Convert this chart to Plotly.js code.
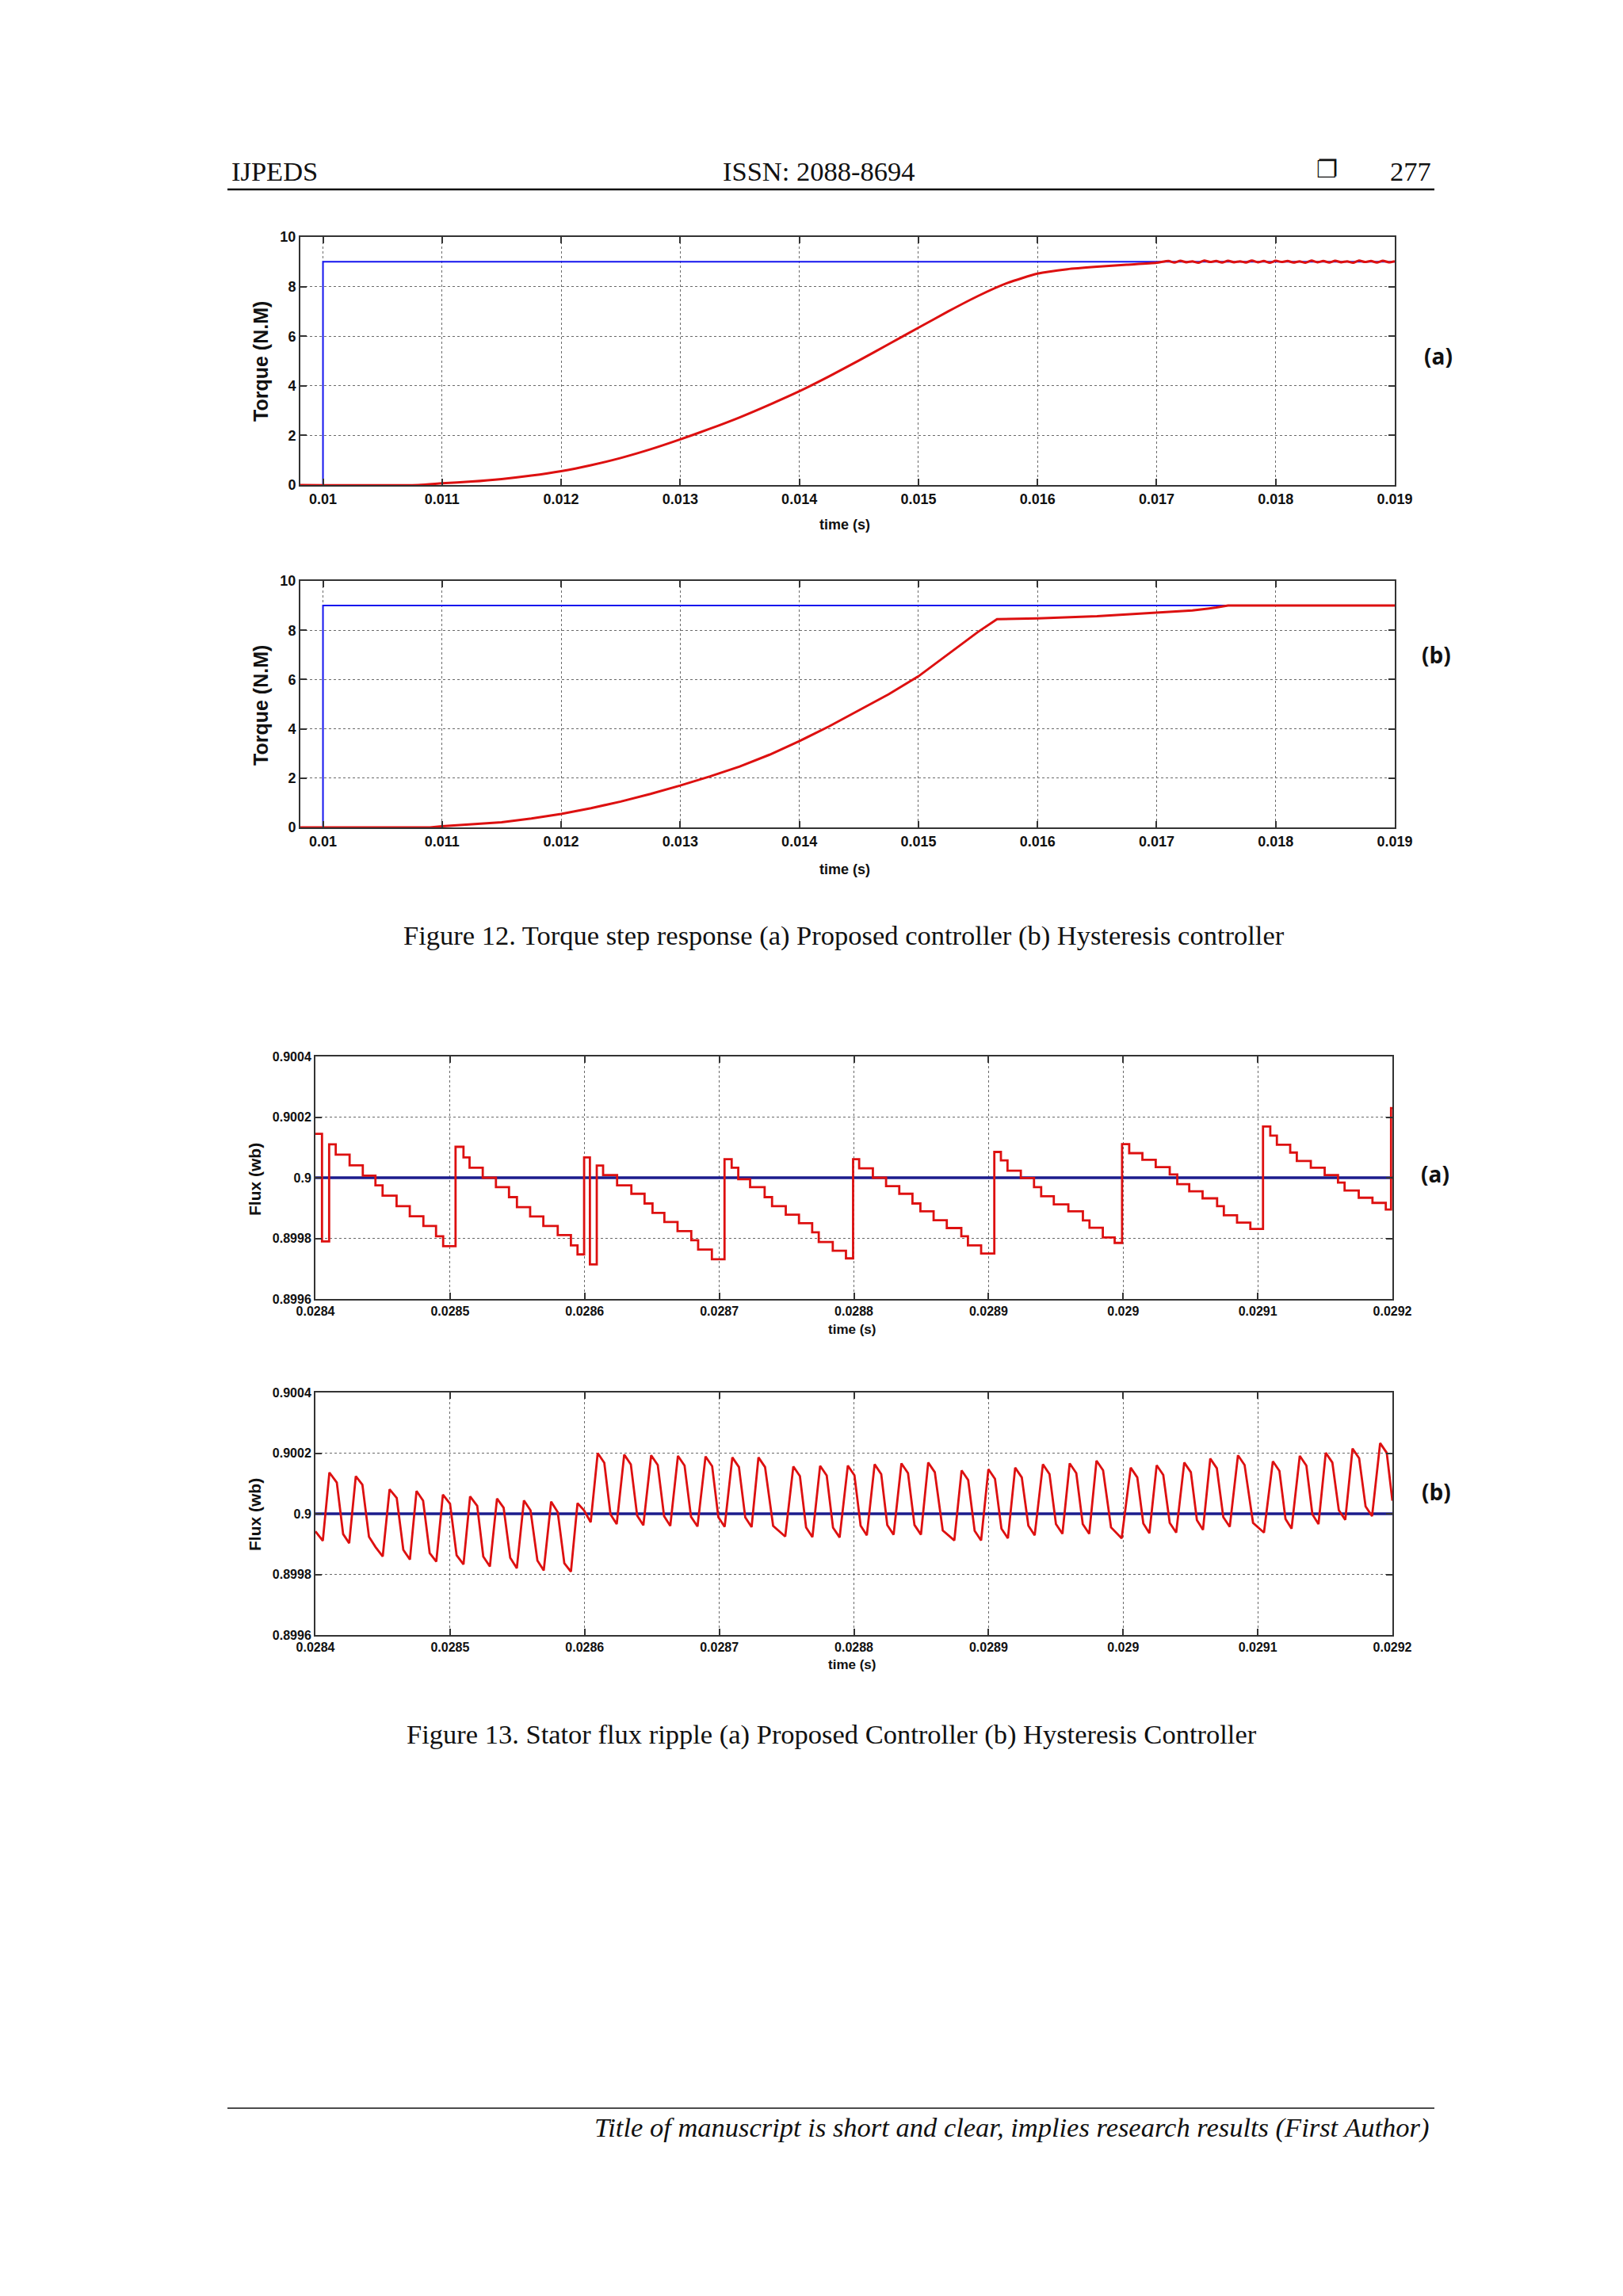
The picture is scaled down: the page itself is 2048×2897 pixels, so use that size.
<!DOCTYPE html>
<html>
<head>
<meta charset="utf-8">
<script src="https://cdn.plot.ly/plotly-3.0.1.min.js"></script>
<style>
html,body{margin:0;padding:0;background:#fff;}
#chart{width:2048px;height:2897px;}
</style>
</head>
<body>
<div id="chart"></div>
<script>
// ---------------- DATA ----------------
// Figure 12 (a) Proposed controller – torque step response
const torqueRefA_t = [0.00981, 0.01, 0.01, 0.019];
const torqueRefA_v = [0, 0, 9, 9];
const torqueA_t = [0.00981, 0.0108, 0.011, 0.01125, 0.0115, 0.01175, 0.012, 0.01225, 0.0125, 0.01275,
  0.013, 0.01325, 0.0135, 0.01375, 0.014, 0.01425, 0.0145, 0.01475, 0.015, 0.01525, 0.0155, 0.01575,
  0.016, 0.01625, 0.0165, 0.01675, 0.017,
  0.0171, 0.01715, 0.0172, 0.01725, 0.0173, 0.01735, 0.0174, 0.01745, 0.0175, 0.01755, 0.0176, 0.01765,
  0.0177, 0.01775, 0.0178, 0.01785, 0.0179, 0.01795, 0.018, 0.01805, 0.0181, 0.01815, 0.0182, 0.01825,
  0.0183, 0.01835, 0.0184, 0.01845, 0.0185, 0.01855, 0.0186, 0.01865, 0.0187, 0.01875, 0.0188, 0.01885,
  0.0189, 0.01895, 0.019];
const torqueA_v = [0, 0, 0.07, 0.14, 0.24, 0.38, 0.56, 0.8, 1.09, 1.44,
  1.84, 2.27, 2.73, 3.24, 3.78, 4.38, 5.02, 5.68, 6.34, 7.0, 7.62, 8.15,
  8.52, 8.7, 8.8, 8.88, 8.96,
  9.03, 8.97, 9.04, 8.98, 9.02, 8.96, 9.05, 8.99, 9.03, 8.97, 9.04, 8.98,
  9.02, 8.97, 9.05, 8.98, 9.03, 8.96, 9.04, 8.99, 9.03, 8.97, 9.02, 8.96,
  9.05, 8.98, 9.03, 8.97, 9.04, 8.98, 9.02, 8.96, 9.05, 8.99, 9.03, 8.97,
  9.04, 8.98, 9.02];

// Figure 12 (b) Hysteresis controller
const torqueRefB_t = [0.00981, 0.01, 0.01, 0.019];
const torqueRefB_v = [0, 0, 9, 9];
const torqueB_t = [0.00981, 0.0109, 0.011, 0.01125, 0.0115, 0.01175, 0.012, 0.01225, 0.0125, 0.01275,
  0.013, 0.01325, 0.0135, 0.01375, 0.014, 0.01425, 0.0145, 0.01475, 0.015, 0.01525, 0.0155, 0.01566,
  0.0158, 0.016, 0.0165, 0.017, 0.0173, 0.0175, 0.0176, 0.019];
const torqueB_v = [0, 0, 0.05, 0.12, 0.21, 0.36, 0.55, 0.78, 1.05, 1.36,
  1.7, 2.07, 2.47, 2.95, 3.5, 4.1, 4.75, 5.4, 6.13, 7.03, 7.93, 8.45,
  8.46, 8.48, 8.57, 8.7, 8.8, 8.92, 9.0, 9.0];

// Figure 13 (a) Proposed controller – stator flux (stair-stepped)
const fluxRef_t = [0.0284, 0.0292];
const fluxRef_v = [0.9, 0.9];
const fluxA_t = [
  0.0284000, 0.0284049, 0.0284102, 0.0284151, 0.0284254, 0.0284352, 0.0284446, 0.0284499, 0.0284603, 0.0284701, 0.0284802, 0.0284896, 0.0284949,
  0.0285041, 0.0285100, 0.0285145, 0.0285243, 0.0285341, 0.0285438, 0.0285497, 0.0285595, 0.0285693, 0.0285800, 0.0285898, 0.0285947, 0.0285996, 0.0286039,
  0.0286090, 0.0286137, 0.0286241, 0.0286347, 0.0286445, 0.0286504, 0.0286592, 0.0286690, 0.0286792, 0.0286843, 0.0286945,
  0.0287039, 0.0287092, 0.0287141, 0.0287229, 0.0287337, 0.0287392, 0.0287494, 0.0287592, 0.0287690, 0.0287739, 0.0287843, 0.0287941,
  0.0287994, 0.0288039, 0.0288141, 0.0288239, 0.0288337, 0.0288435, 0.0288494, 0.0288592, 0.0288690, 0.0288798, 0.0288847, 0.0288945,
  0.0289043, 0.0289092, 0.0289141, 0.0289240, 0.0289338, 0.0289391, 0.0289485, 0.0289593, 0.0289701, 0.0289750, 0.0289849, 0.0289937,
  0.0289992, 0.0290045, 0.0290143, 0.0290242, 0.0290346, 0.0290402, 0.0290491, 0.0290590, 0.0290698, 0.0290748, 0.0290846, 0.0290945,
  0.0291039, 0.0291093, 0.0291142, 0.0291241, 0.0291290, 0.0291394, 0.0291497, 0.0291596, 0.0291645, 0.0291750, 0.0291852, 0.0291951,
  0.0291990, 0.0292000];
const fluxA_v = [
  0.900145, 0.899790, 0.900110, 0.900076, 0.900041, 0.900007, 0.899975, 0.899941, 0.899906, 0.899873, 0.899841, 0.899807, 0.899774,
  0.900102, 0.900067, 0.900033, 0.900000, 0.899969, 0.899936, 0.899903, 0.899872, 0.899841, 0.899811, 0.899777, 0.899747, 0.900067, 0.899714,
  0.900040, 0.900009, 0.899975, 0.899947, 0.899915, 0.899884, 0.899854, 0.899824, 0.899794, 0.899763, 0.899731,
  0.900061, 0.900033, 0.899995, 0.899969, 0.899936, 0.899906, 0.899878, 0.899850, 0.899820, 0.899788, 0.899759, 0.899734,
  0.900061, 0.900031, 0.900000, 0.899972, 0.899947, 0.899915, 0.899889, 0.899860, 0.899834, 0.899807, 0.899777, 0.899750,
  0.900085, 0.900057, 0.900023, 0.899999, 0.899969, 0.899939, 0.899912, 0.899889, 0.899859, 0.899835, 0.899803, 0.899785,
  0.900111, 0.900081, 0.900059, 0.900035, 0.900011, 0.899979, 0.899955, 0.899932, 0.899906, 0.899876, 0.899852, 0.899831,
  0.900169, 0.900139, 0.900109, 0.900083, 0.900055, 0.900033, 0.900009, 0.899984, 0.899958, 0.899934, 0.899917, 0.899895,
  0.900230, 0.900230];

// Figure 13 (b) Hysteresis controller – stator flux
const fluxB_t = [
  0.0284000, 0.0284055, 0.0284104, 0.0284159, 0.0284206, 0.0284251, 0.0284300, 0.0284349, 0.0284398, 0.0284447,
  0.0284500, 0.0284551, 0.0284604, 0.0284653, 0.0284702, 0.0284751, 0.0284800, 0.0284849, 0.0284898, 0.0284947,
  0.0285000, 0.0285049, 0.0285100, 0.0285149, 0.0285202, 0.0285247, 0.0285296, 0.0285349, 0.0285398, 0.0285447,
  0.0285496, 0.0285549, 0.0285598, 0.0285649, 0.0285696, 0.0285751, 0.0285800, 0.0285849, 0.0285898, 0.0285947,
  0.0285996, 0.0286045,
  0.0286097, 0.0286146, 0.0286192, 0.0286238,
  0.0286294, 0.0286343, 0.0286390, 0.0286436,
  0.0286494, 0.0286543, 0.0286590, 0.0286636,
  0.0286693, 0.0286742, 0.0286790, 0.0286838,
  0.0286898, 0.0286947, 0.0286993, 0.0287040,
  0.0287097, 0.0287146, 0.0287193, 0.0287240,
  0.0287291, 0.0287340, 0.0287400, 0.0287490,
  0.0287550, 0.0287599, 0.0287645, 0.0287692,
  0.0287749, 0.0287798, 0.0287845, 0.0287894,
  0.0287955, 0.0288004, 0.0288050, 0.0288096,
  0.0288154, 0.0288203, 0.0288248, 0.0288295,
  0.0288353, 0.0288402, 0.0288450, 0.0288498,
  0.0288552, 0.0288601, 0.0288660, 0.0288746,
  0.0288800, 0.0288849, 0.0288897, 0.0288945,
  0.0288999, 0.0289048, 0.0289096, 0.0289144,
  0.0289198, 0.0289247, 0.0289296, 0.0289343,
  0.0289404, 0.0289453, 0.0289501, 0.0289549,
  0.0289603, 0.0289652, 0.0289700, 0.0289748,
  0.0289802, 0.0289851, 0.0289910, 0.0289989,
  0.0290056, 0.0290105, 0.0290150, 0.0290195,
  0.0290249, 0.0290298, 0.0290346, 0.0290394,
  0.0290454, 0.0290503, 0.0290548, 0.0290593,
  0.0290647, 0.0290696, 0.0290744, 0.0290792,
  0.0290853, 0.0290902, 0.0290965, 0.0291046,
  0.0291112, 0.0291161, 0.0291206, 0.0291251,
  0.0291312, 0.0291361, 0.0291406, 0.0291451,
  0.0291505, 0.0291554, 0.0291602, 0.0291650,
  0.0291704, 0.0291753, 0.0291801, 0.0291849,
  0.0291909, 0.0291958, 0.0292000];
const fluxB_v = [
  0.899942, 0.899911, 0.900136, 0.900103, 0.899933, 0.899903, 0.900124, 0.900096, 0.899924, 0.899890,
  0.899859, 0.900081, 0.900052, 0.899881, 0.899849, 0.900075, 0.900043, 0.899870, 0.899842, 0.900063,
  0.900033, 0.899863, 0.899833, 0.900057, 0.900026, 0.899859, 0.899826, 0.900050, 0.900020, 0.899855,
  0.899820, 0.900044, 0.900011, 0.899846, 0.899813, 0.900040, 0.900005, 0.899837, 0.899809, 0.900035,
  0.900011, 0.899972,
  0.900200, 0.900168, 0.899998, 0.899966,
  0.900195, 0.900163, 0.899994, 0.899962,
  0.900193, 0.900161, 0.899992, 0.899960,
  0.900191, 0.900159, 0.899990, 0.899958,
  0.900189, 0.900157, 0.899989, 0.899957,
  0.900186, 0.900154, 0.899988, 0.899956,
  0.900186, 0.900154, 0.899960, 0.899925,
  0.900156, 0.900124, 0.899955, 0.899923,
  0.900158, 0.900126, 0.899954, 0.899922,
  0.900159, 0.900127, 0.899961, 0.899929,
  0.900163, 0.900131, 0.899963, 0.899931,
  0.900166, 0.900134, 0.899963, 0.899931,
  0.900169, 0.900137, 0.899945, 0.899912,
  0.900143, 0.900111, 0.899944, 0.899912,
  0.900147, 0.900115, 0.899951, 0.899919,
  0.900152, 0.900120, 0.899961, 0.899929,
  0.900163, 0.900131, 0.899966, 0.899934,
  0.900166, 0.900134, 0.899966, 0.899934,
  0.900175, 0.900143, 0.899955, 0.899919,
  0.900152, 0.900120, 0.899968, 0.899936,
  0.900160, 0.900128, 0.899970, 0.899938,
  0.900169, 0.900137, 0.899979, 0.899947,
  0.900182, 0.900150, 0.899989, 0.899957,
  0.900193, 0.900161, 0.899970, 0.899938,
  0.900173, 0.900141, 0.899983, 0.899951,
  0.900191, 0.900159, 0.899998, 0.899966,
  0.900201, 0.900169, 0.900012, 0.899980,
  0.900215, 0.900183, 0.900024, 0.899992,
  0.900233, 0.900201, 0.900043];

// Tick labels
const torqueXTicks = [0.01, 0.011, 0.012, 0.013, 0.014, 0.015, 0.016, 0.017, 0.018, 0.019];
const torqueXLabels = ['0.01', '0.011', '0.012', '0.013', '0.014', '0.015', '0.016', '0.017', '0.018', '0.019'];
const torqueYTicks = [0, 2, 4, 6, 8, 10];
const torqueYLabels = ['0', '2', '4', '6', '8', '10'];
const fluxXTicks = [0.0284, 0.0285, 0.0286, 0.0287, 0.0288, 0.0289, 0.029, 0.0291, 0.0292];
const fluxXLabels = ['0.0284', '0.0285', '0.0286', '0.0287', '0.0288', '0.0289', '0.029', '0.0291', '0.0292'];
const fluxYTicks = [0.8996, 0.8998, 0.9, 0.9002, 0.9004];
const fluxYLabels = ['0.8996', '0.8998', '0.9', '0.9002', '0.9004'];

// Texts
const headerLeft = 'IJPEDS';
const headerMid = 'ISSN: 2088-8694';
const headerBox = '❐';
const headerPage = '277';
const caption12 = 'Figure 12. Torque step response (a) Proposed controller (b) Hysteresis controller';
const caption13 = 'Figure 13. Stator flux ripple (a) Proposed Controller (b) Hysteresis Controller';
const footerText = 'Title of manuscript is short and clear, implies research results (First Author)';

// ---------------- LAYOUT ----------------
const W = 2048, H = 2897;
const fx = p => p / W;
const fy = p => 1 - p / H;
const AX = '#333333';

function xAxis(l, r, range, tv, tt, size, anchor) {
  return {
    domain: [fx(l), fx(r)], range: range, anchor: anchor,
    tickmode: 'array', tickvals: tv, ticktext: tt,
    ticks: 'inside', ticklen: 8, tickwidth: 2, tickcolor: AX,
    showline: true, linecolor: AX, linewidth: 2, mirror: 'ticks',
    showgrid: true, gridcolor: '#6a6a6a', gridwidth: 1, griddash: 'dot',
    zeroline: false, fixedrange: true,
    tickfont: {family: 'Liberation Sans, Arial, sans-serif', size: size, color: '#111', weight: 'bold'}
  };
}
function yAxis(t, b, range, tv, tt, size, anchor) {
  return {
    domain: [fy(b), fy(t)], range: range, anchor: anchor,
    tickmode: 'array', tickvals: tv, ticktext: tt,
    ticks: 'inside', ticklen: 8, tickwidth: 2, tickcolor: AX,
    showline: true, linecolor: AX, linewidth: 2, mirror: 'ticks',
    showgrid: true, gridcolor: '#6a6a6a', gridwidth: 1, griddash: 'dot',
    zeroline: false, fixedrange: true,
    tickfont: {family: 'Liberation Sans, Arial, sans-serif', size: size, color: '#111', weight: 'bold'}
  };
}

const BLUE = '#1414ee', RED = '#dd1010', NAVY = '#1c1c8c';

const traces = [
  {x: torqueRefA_t, y: torqueRefA_v, xaxis: 'x', yaxis: 'y', mode: 'lines', line: {color: BLUE, width: 2}},
  {x: torqueA_t, y: torqueA_v, xaxis: 'x', yaxis: 'y', mode: 'lines', line: {color: RED, width: 3, shape: 'spline', smoothing: 0.6}},
  {x: torqueRefB_t, y: torqueRefB_v, xaxis: 'x2', yaxis: 'y2', mode: 'lines', line: {color: BLUE, width: 2}},
  {x: torqueB_t, y: torqueB_v, xaxis: 'x2', yaxis: 'y2', mode: 'lines', line: {color: RED, width: 3}},
  {x: fluxRef_t, y: fluxRef_v, xaxis: 'x3', yaxis: 'y3', mode: 'lines', line: {color: NAVY, width: 3.5}},
  {x: fluxA_t, y: fluxA_v, xaxis: 'x3', yaxis: 'y3', mode: 'lines', line: {color: RED, width: 2.8, shape: 'hv'}},
  {x: fluxRef_t, y: fluxRef_v, xaxis: 'x4', yaxis: 'y4', mode: 'lines', line: {color: NAVY, width: 3.5}},
  {x: fluxB_t, y: fluxB_v, xaxis: 'x4', yaxis: 'y4', mode: 'lines', line: {color: RED, width: 2.8}}
];

function ann(px, py, text, font, xanchor, angle) {
  return {xref: 'paper', yref: 'paper', x: fx(px), y: fy(py), text: text, showarrow: false,
    xanchor: xanchor || 'center', yanchor: 'middle', textangle: angle || 0, font: font};
}
const serif = {family: 'Liberation Serif, Times New Roman, serif', size: 34.5, color: '#111'};
const labFont = {family: 'Open Sans, Liberation Sans, sans-serif', size: 28, color: '#111', weight: 'bold'};
const tqTitle = {family: 'Liberation Sans, Arial, sans-serif', size: 25, color: '#111', weight: 'bold'};
const fxTitle = {family: 'Liberation Sans, Arial, sans-serif', size: 21, color: '#111', weight: 'bold'};
const timeT = {family: 'Liberation Sans, Arial, sans-serif', size: 18, color: '#111', weight: 'bold'};
const timeF = {family: 'Liberation Sans, Arial, sans-serif', size: 17, color: '#111', weight: 'bold'};

const annotations = [
  ann(290, 216, headerLeft, serif, 'left'),
  ann(1033, 216, headerMid, serif),
  ann(1674, 214, headerBox, {family: 'DejaVu Sans, sans-serif', size: 30, color: '#111', weight: 'bold'}),
  ann(1780, 216, headerPage, serif),
  ann(1065, 1180, caption12, serif),
  ann(1049, 2188, caption13, serif),
  ann(1806, 2684, footerText, {family: 'Liberation Serif, Times New Roman, serif', size: 34.5, color: '#111', style: 'italic'}, 'right'),
  ann(1815, 449, '(a)', labFont),
  ann(1812, 826, '(b)', labFont),
  ann(1811, 1481, '(a)', labFont),
  ann(1812, 1882, '(b)', labFont),
  ann(329, 456, 'Torque (N.M)', tqTitle, 'center', -90),
  ann(329, 890, 'Torque (N.M)', tqTitle, 'center', -90),
  ann(321, 1488, 'Flux (wb)', fxTitle, 'center', -90),
  ann(321, 1911, 'Flux (wb)', fxTitle, 'center', -90),
  ann(1066, 662, 'time (s)', timeT),
  ann(1066, 1097, 'time (s)', timeT),
  ann(1075, 1677, 'time (s)', timeF),
  ann(1075, 2100, 'time (s)', timeF)
];

const shapes = [
  {type: 'line', xref: 'paper', yref: 'paper', x0: fx(287), x1: fx(1810), y0: fy(239), y1: fy(239), line: {color: '#111', width: 2.5}},
  {type: 'line', xref: 'paper', yref: 'paper', x0: fx(287), x1: fx(1810), y0: fy(2660), y1: fy(2660), line: {color: '#111', width: 1.5}}
];

const layout = {
  width: W, height: H,
  margin: {l: 0, r: 0, t: 0, b: 0, pad: 0},
  paper_bgcolor: '#ffffff', plot_bgcolor: '#ffffff',
  showlegend: false,
  xaxis: xAxis(379, 1760, [0.00981, 0.019], torqueXTicks, torqueXLabels, 18, 'y'),
  yaxis: yAxis(299, 612, [0, 10], torqueYTicks, torqueYLabels, 18, 'x'),
  xaxis2: xAxis(379, 1760, [0.00981, 0.019], torqueXTicks, torqueXLabels, 18, 'y2'),
  yaxis2: yAxis(733, 1044, [0, 10], torqueYTicks, torqueYLabels, 18, 'x2'),
  xaxis3: xAxis(398, 1757, [0.0284, 0.0292], fluxXTicks, fluxXLabels, 16, 'y3'),
  yaxis3: yAxis(1333, 1639, [0.8996, 0.9004], fluxYTicks, fluxYLabels, 16, 'x3'),
  xaxis4: xAxis(398, 1757, [0.0284, 0.0292], fluxXTicks, fluxXLabels, 16, 'y4'),
  yaxis4: yAxis(1757, 2063, [0.8996, 0.9004], fluxYTicks, fluxYLabels, 16, 'x4'),
  annotations: annotations,
  shapes: shapes
};

Plotly.newPlot('chart', traces, layout, {displayModeBar: false, staticPlot: true});
</script>
</body>
</html>
